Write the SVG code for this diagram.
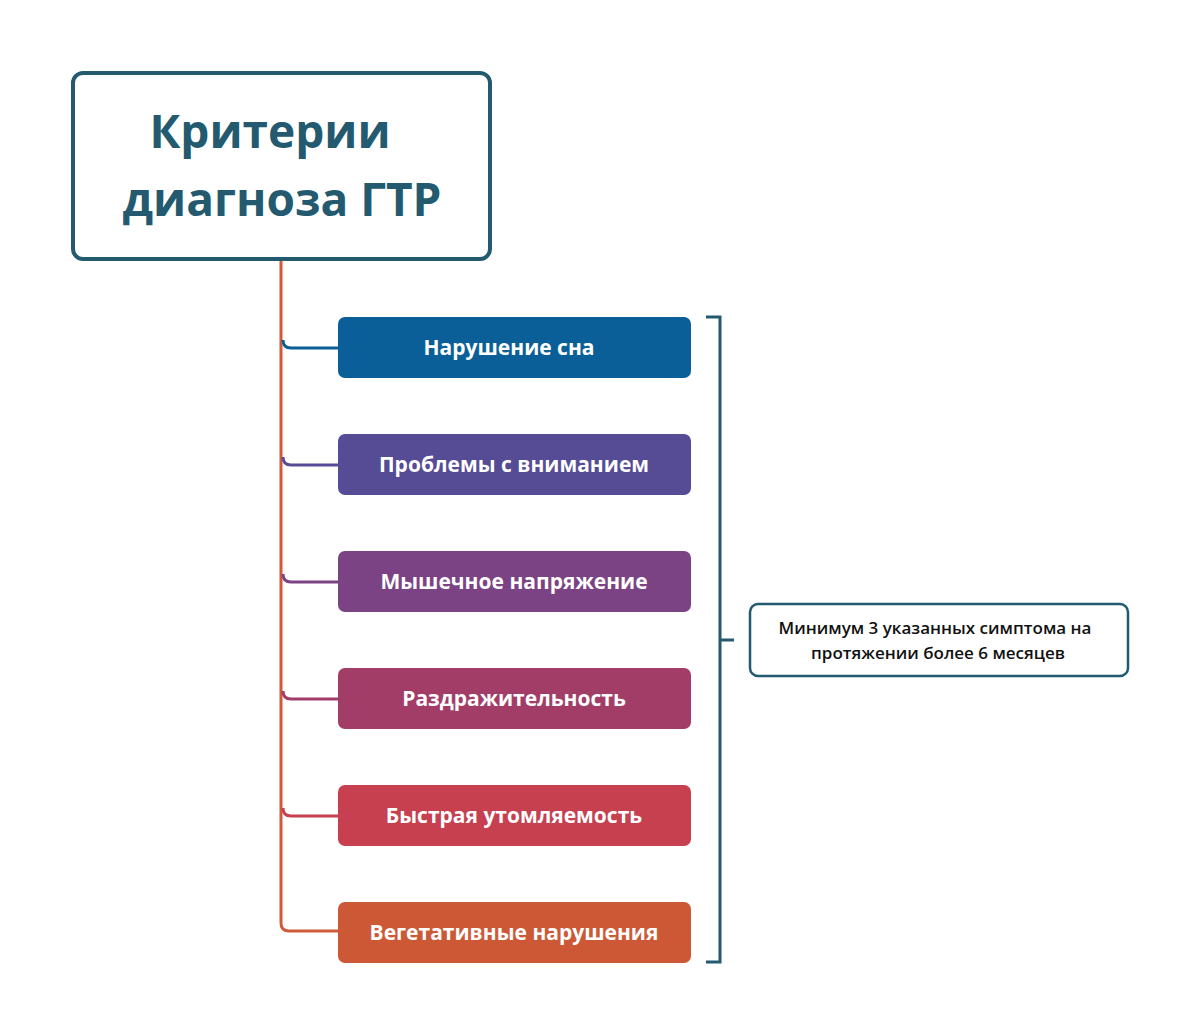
<svg xmlns="http://www.w3.org/2000/svg" width="1200" height="1034" viewBox="0 0 1200 1034">
<style>
.t{font-family:"Open Sans","DejaVu Sans",sans-serif;font-weight:bold;fill:#fff;font-size:21px;text-anchor:middle}
.c{fill:none;stroke-width:3}
</style>
<rect width="1200" height="1034" fill="#fff"/>
<g id="connectors">
<path d="M281 260 V923 Q281 931 289 931 H338" class="c" stroke="#d05a3a"/>
<path d="M283 340 Q283 348 291 348 H338" class="c" stroke="#0b5f99"/>
<path d="M283 457 Q283 465 291 465 H338" class="c" stroke="#564b95"/>
<path d="M283 574 Q283 582 291 582 H338" class="c" stroke="#7b4284"/>
<path d="M283 691 Q283 699 291 699 H338" class="c" stroke="#a23d68"/>
<path d="M283 808 Q283 816 291 816 H338" class="c" stroke="#c64050"/>
<path d="M706 317 H720 V962 H706 M720 640 H734" class="c" stroke="#235a70" stroke-width="2.5"/>
</g>
<g id="root">
<rect x="73" y="73" width="417" height="186" rx="10" fill="#fff" stroke="#235a70" stroke-width="4"/>
<text x="270" y="148" text-anchor="middle" font-family="'Open Sans',sans-serif" font-weight="bold" font-size="46" fill="#235a70">Критерии</text>
<text x="282" y="216" text-anchor="middle" font-family="'Open Sans',sans-serif" font-weight="bold" font-size="46" fill="#235a70">диагноза ГТР</text>
</g>
<g id="n1"><rect x="338" y="317" width="353" height="61" rx="7" fill="#0b5f99"/><text class="t" x="509" y="355">Нарушение сна</text></g>
<g id="n2"><rect x="338" y="434" width="353" height="61" rx="7" fill="#564b95"/><text class="t" x="514" y="472">Проблемы с вниманием</text></g>
<g id="n3"><rect x="338" y="551" width="353" height="61" rx="7" fill="#7b4284"/><text class="t" x="514" y="589">Мышечное напряжение</text></g>
<g id="n4"><rect x="338" y="668" width="353" height="61" rx="7" fill="#a23d68"/><text class="t" x="514" y="706">Раздражительность</text></g>
<g id="n5"><rect x="338" y="785" width="353" height="61" rx="7" fill="#c64050"/><text class="t" x="514" y="823">Быстрая утомляемость</text></g>
<g id="n6"><rect x="338" y="902" width="353" height="61" rx="7" fill="#cd5836"/><text class="t" x="514" y="940">Вегетативные нарушения</text></g>
<g id="note">
<rect x="750" y="604" width="378" height="72" rx="8" fill="#fff" stroke="#235a70" stroke-width="2.5"/>
<text x="935" y="634" text-anchor="middle" font-family="'Open Sans',sans-serif" font-weight="600" font-size="17" fill="#111">Минимум 3 указанных симптома на</text>
<text x="938" y="659" text-anchor="middle" font-family="'Open Sans',sans-serif" font-weight="600" font-size="17" fill="#111">протяжении более 6 месяцев</text>
</g>
</svg>
